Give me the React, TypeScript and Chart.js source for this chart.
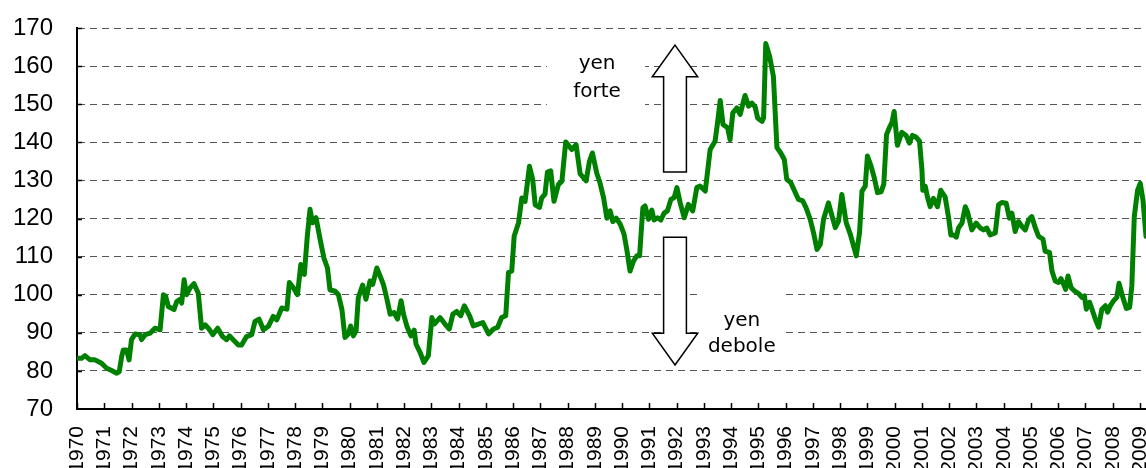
import React, { useEffect, useRef } from 'react';
import { Chart, registerables } from 'chart.js';

Chart.register(...registerables);

// Time (fractional years) and index values
const dates: number[] = [
  1970.00, 1970.17, 1970.29, 1970.48, 1970.66, 1970.90, 1971.09, 1971.27, 1971.46, 1971.55,
  1971.64, 1971.70, 1971.82, 1971.91, 1972.00, 1972.13, 1972.31, 1972.37, 1972.50, 1972.68,
  1972.86, 1973.05, 1973.17, 1973.25, 1973.35, 1973.56, 1973.66, 1973.78, 1973.84, 1973.93,
  1974.02, 1974.15, 1974.29, 1974.45, 1974.57, 1974.70, 1974.82, 1974.98, 1975.16, 1975.34,
  1975.49, 1975.59, 1975.73, 1975.92, 1976.04, 1976.22, 1976.41, 1976.53, 1976.68, 1976.84,
  1977.02, 1977.20, 1977.33, 1977.51, 1977.70, 1977.79, 1977.94, 1978.09, 1978.21, 1978.34,
  1978.45, 1978.55, 1978.64, 1978.77, 1978.92, 1979.06, 1979.19, 1979.28, 1979.47, 1979.59,
  1979.72, 1979.83, 1979.96, 1980.04, 1980.14, 1980.24, 1980.32, 1980.48, 1980.60, 1980.75,
  1980.85, 1981.00, 1981.12, 1981.24, 1981.36, 1981.49, 1981.63, 1981.76, 1981.89, 1981.98,
  1982.10, 1982.25, 1982.37, 1982.44, 1982.59, 1982.73, 1982.89, 1983.02, 1983.11, 1983.32,
  1983.50, 1983.66, 1983.79, 1983.93, 1984.08, 1984.21, 1984.40, 1984.54, 1984.73, 1984.89,
  1985.10, 1985.28, 1985.43, 1985.58, 1985.73, 1985.83, 1985.95, 1986.04, 1986.20, 1986.32,
  1986.44, 1986.60, 1986.72, 1986.81, 1986.97, 1987.05, 1987.17, 1987.26, 1987.38, 1987.50,
  1987.66, 1987.79, 1987.93, 1988.15, 1988.31, 1988.46, 1988.68, 1988.80, 1988.91, 1989.07,
  1989.19, 1989.32, 1989.44, 1989.56, 1989.66, 1989.78, 1989.93, 1990.07, 1990.17, 1990.29,
  1990.42, 1990.54, 1990.64, 1990.76, 1990.84, 1990.97, 1991.09, 1991.17, 1991.30, 1991.42,
  1991.54, 1991.66, 1991.79, 1991.91, 1992.01, 1992.13, 1992.28, 1992.43, 1992.59, 1992.74,
  1992.86, 1993.05, 1993.13, 1993.23, 1993.41, 1993.50, 1993.60, 1993.70, 1993.87, 1993.96,
  1994.06, 1994.21, 1994.33, 1994.51, 1994.64, 1994.76, 1994.88, 1994.97, 1995.13, 1995.19,
  1995.27, 1995.41, 1995.55, 1995.68, 1995.82, 1995.95, 1996.04, 1996.19, 1996.31, 1996.47,
  1996.63, 1996.75, 1996.90, 1997.02, 1997.15, 1997.27, 1997.39, 1997.57, 1997.70, 1997.82,
  1997.94, 1998.06, 1998.22, 1998.37, 1998.49, 1998.59, 1998.71, 1998.80, 1998.92, 1999.00,
  1999.13, 1999.25, 1999.37, 1999.50, 1999.60, 1999.70, 1999.80, 1999.90, 1999.98, 2000.10,
  2000.26, 2000.42, 2000.54, 2000.65, 2000.79, 2000.91, 2001.00, 2001.03, 2001.12, 2001.20,
  2001.30, 2001.42, 2001.57, 2001.69, 2001.85, 2001.98, 2002.06, 2002.16, 2002.26, 2002.34,
  2002.47, 2002.59, 2002.67, 2002.83, 2002.99, 2003.14, 2003.26, 2003.38, 2003.50, 2003.69,
  2003.81, 2003.93, 2004.09, 2004.21, 2004.30, 2004.42, 2004.54, 2004.67, 2004.79, 2004.91,
  2005.03, 2005.16, 2005.28, 2005.44, 2005.52, 2005.68, 2005.77, 2005.89, 2006.01, 2006.10,
  2006.20, 2006.27, 2006.36, 2006.47, 2006.59, 2006.75, 2006.87, 2006.96, 2007.03, 2007.15,
  2007.24, 2007.36, 2007.48, 2007.60, 2007.73, 2007.81, 2007.91, 2008.03, 2008.15, 2008.23,
  2008.37, 2008.50, 2008.62, 2008.70, 2008.79, 2008.91, 2009.01, 2009.11, 2009.22,
];

const yenIndex: number[] = [
  83.3, 83.3, 84.0, 82.9, 82.9, 82.0, 80.7, 80.1, 79.4, 79.8,
  83.8, 85.5, 85.5, 82.9, 88.2, 89.7, 89.5, 88.2, 89.5, 89.9,
  91.2, 90.8, 100.0, 99.6, 96.9, 96.1, 98.2, 98.8, 97.8, 103.9,
  100.0, 101.8, 102.9, 100.4, 91.2, 92.1, 91.2, 89.5, 91.2, 89.0,
  88.2, 89.2, 88.2, 86.8, 86.8, 89.0, 89.5, 93.0, 93.6, 90.8,
  91.7, 94.3, 93.4, 96.5, 96.2, 103.2, 101.8, 100.0, 107.9, 105.3,
  115.4, 122.4, 118.9, 120.2, 114.5, 109.6, 107.0, 101.3, 100.9, 100.0,
  96.1, 88.8, 89.7, 91.8, 89.2, 90.5, 99.2, 102.5, 98.8, 103.6,
  102.7, 107.0, 104.9, 102.7, 99.2, 94.9, 95.3, 93.6, 98.4, 94.9,
  91.8, 89.2, 90.7, 87.0, 84.8, 82.2, 84.0, 94.0, 92.3, 94.0,
  92.3, 91.0, 94.9, 95.6, 94.5, 97.1, 94.5, 91.8, 92.3, 92.7,
  89.7, 91.0, 91.4, 94.0, 94.5, 105.8, 106.2, 115.4, 118.9, 125.4,
  124.5, 133.7, 130.2, 123.6, 122.9, 125.4, 126.4, 132.2, 132.5, 124.5,
  128.9, 129.8, 140.1, 138.1, 139.4, 131.7, 129.9, 135.0, 137.2, 131.9,
  129.3, 125.4, 120.1, 122.0, 119.2, 120.1, 118.5, 115.9, 111.9, 106.2,
  108.9, 110.2, 110.2, 122.8, 123.3, 119.8, 122.2, 119.6, 120.2, 119.6,
  121.4, 122.0, 125.0, 125.5, 128.1, 124.1, 120.2, 123.7, 122.0, 128.1,
  128.5, 127.2, 132.0, 138.1, 140.3, 145.1, 151.0, 144.7, 143.8, 140.7,
  147.7, 149.0, 147.3, 152.3, 149.5, 150.3, 149.3, 146.4, 145.5, 146.4,
  165.9, 162.6, 157.3, 138.6, 137.2, 135.5, 130.3, 129.4, 127.5, 125.0,
  124.6, 122.8, 119.8, 116.3, 111.9, 113.2, 119.8, 124.1, 120.7, 117.6,
  119.3, 126.3, 118.9, 115.9, 112.8, 110.2, 116.3, 127.2, 128.5, 136.4,
  133.8, 130.7, 126.8, 127.0, 129.0, 142.0, 143.8, 145.2, 148.1, 139.2,
  142.6, 141.8, 139.8, 141.8, 141.3, 140.3, 132.7, 127.4, 128.5, 125.7,
  123.1, 125.3, 123.1, 127.4, 125.7, 120.1, 115.7, 115.7, 115.1, 117.5,
  118.8, 123.1, 121.8, 117.0, 118.8, 117.5, 117.0, 117.5, 115.7, 116.2,
  123.6, 124.2, 124.0, 120.1, 121.4, 116.6, 119.2, 117.9, 117.0, 119.6,
  120.5, 117.5, 115.3, 114.6, 111.4, 111.1, 106.2, 103.6, 103.2, 104.2,
  102.7, 101.4, 104.9, 101.9, 101.0, 100.3, 99.3, 99.7, 96.2, 98.0,
  96.2, 93.6, 91.5, 96.2, 97.1, 95.4, 97.1, 98.4, 99.3, 103.0,
  99.3, 96.4, 96.7, 102.3, 120.5, 127.4, 129.2, 124.8, 115.3,
];

const yearTicks: number[] = [
  1970, 1971, 1972, 1973, 1974, 1975, 1976, 1977, 1978, 1979,
  1980, 1981, 1982, 1983, 1984, 1985, 1986, 1987, 1988, 1989,
  1990, 1991, 1992, 1993, 1994, 1995, 1996, 1997, 1998, 1999,
  2000, 2001, 2002, 2003, 2004, 2005, 2006, 2007, 2008, 2009,
];
const yearLabels: string[] = yearTicks.map((y) => String(y));

const annotationTexts = { up: ['yen', 'forte'], down: ['yen', 'debole'] };

const W = 1146;
const H = 468;

function drawArrow(ctx: CanvasRenderingContext2D, cx: number, tipY: number, baseY: number, endY: number, headHalf: number, shaftHalf: number) {
  ctx.beginPath();
  ctx.moveTo(cx, tipY);
  ctx.lineTo(cx + headHalf, baseY);
  ctx.lineTo(cx + shaftHalf, baseY);
  ctx.lineTo(cx + shaftHalf, endY);
  ctx.lineTo(cx - shaftHalf, endY);
  ctx.lineTo(cx - shaftHalf, baseY);
  ctx.lineTo(cx - headHalf, baseY);
  ctx.closePath();
  ctx.fillStyle = '#ffffff';
  ctx.fill();
  ctx.lineWidth = 1.5;
  ctx.strokeStyle = '#000000';
  ctx.stroke();
}

const decorPlugin = {
  id: 'decor',
  beforeDatasetsDraw(chart: any) {
    const { ctx, chartArea } = chart;
    const x = chart.scales.x;
    const y = chart.scales.y;
    ctx.save();

    // inward tick marks
    ctx.strokeStyle = '#000';
    ctx.lineWidth = 1.5;
    ctx.beginPath();
    yearTicks.forEach((v) => {
      const px = Math.round(x.getPixelForValue(v)) + 0.5;
      ctx.moveTo(px, chartArea.bottom);
      ctx.lineTo(px, chartArea.bottom - 6);
    });
    for (let v = 80; v <= 170; v += 10) {
      const py = Math.round(y.getPixelForValue(v)) + 0.5;
      ctx.moveTo(chartArea.left, py);
      ctx.lineTo(chartArea.left + 5, py);
    }
    ctx.stroke();

    // white boxes behind the labels
    ctx.fillStyle = '#ffffff';
    const bx1 = x.getPixelForValue(1987.24), bx2 = x.getPixelForValue(1990.84);
    const by1 = y.getPixelForValue(166), by2 = y.getPixelForValue(147);
    ctx.fillRect(bx1, by1, bx2 - bx1, by2 - by1);
    const cx1 = x.getPixelForValue(1992.78), cx2 = x.getPixelForValue(1995.98);
    const cy1 = y.getPixelForValue(102), cy2 = y.getPixelForValue(87);
    ctx.fillRect(cx1, cy1, cx2 - cx1, cy2 - cy1);

    // arrows
    const ax = x.getPixelForValue(1991.94);
    drawArrow(ctx, ax, y.getPixelForValue(165.5), y.getPixelForValue(157.2), y.getPixelForValue(132.2), 22.7, 11.4);
    drawArrow(ctx, ax, y.getPixelForValue(81.55), y.getPixelForValue(89.9), y.getPixelForValue(115.06), 22.7, 11.4);

    // texts
    ctx.fillStyle = '#000';
    ctx.font = '20px "DejaVu Sans"';
    ctx.textAlign = 'center';
    ctx.textBaseline = 'alphabetic';
    const tx1 = x.getPixelForValue(1989.08);
    ctx.fillText(annotationTexts.up[0], tx1, y.getPixelForValue(159.2));
    ctx.fillText(annotationTexts.up[1], tx1, y.getPixelForValue(151.8));
    const tx2 = x.getPixelForValue(1994.39);
    ctx.fillText(annotationTexts.down[0], tx2, y.getPixelForValue(91.8));
    ctx.fillText(annotationTexts.down[1], tx2, y.getPixelForValue(85.0));

    ctx.restore();
  },
};

export default function App() {
  const ref = useRef<HTMLCanvasElement | null>(null);

  useEffect(() => {
    if (!ref.current) return;
    const chart = new Chart(ref.current, {
      type: 'line',
      data: {
        datasets: [
          {
            data: dates.map((d, i) => ({ x: d, y: yenIndex[i] })),
            borderColor: '#008000',
            borderWidth: 5,
            pointRadius: 0,
            tension: 0,
            borderJoinStyle: 'round',
            borderCapStyle: 'round',
            fill: false,
          },
        ],
      },
      options: {
        animation: false,
        responsive: false,
        devicePixelRatio: 1,
        events: [],
        layout: { padding: { top: 28, right: 0, left: 0, bottom: 0 } },
        plugins: { legend: { display: false }, tooltip: { enabled: false } },
        scales: {
          x: {
            type: 'linear',
            min: 1970,
            max: 2009.22,
            grid: { display: false, drawTicks: false },
            border: { display: true, color: '#000', width: 2 },
            afterBuildTicks: (scale: any) => {
              scale.ticks = yearTicks.map((v) => ({ value: v }));
            },
            afterFit: (scale: any) => {
              scale.height = 59;
              scale.paddingLeft = 0;
              scale.paddingRight = 0;
              scale.paddingTop = 0;
              scale.paddingBottom = 0;
            },
            ticks: {
              autoSkip: false,
              minRotation: 90,
              maxRotation: 90,
              padding: 17,
              color: '#000',
              font: { family: '"Liberation Sans", Arial, sans-serif', size: 21 },
              callback: (v: any, i: number) => yearLabels[i] ?? String(v),
            },
          },
          y: {
            min: 70,
            max: 170,
            grid: { color: '#555', lineWidth: 1, drawTicks: false },
            border: { display: true, color: '#000', width: 2, dash: [7, 5] },
            afterFit: (scale: any) => {
              scale.width = 77;
              scale.paddingTop = 0;
              scale.paddingBottom = 0;
              scale.paddingLeft = 0;
              scale.paddingRight = 0;
            },
            ticks: {
              stepSize: 10,
              padding: 24,
              color: '#000',
              font: { family: '"Liberation Sans", Arial, sans-serif', size: 24 },
            },
          },
        },
      },
      plugins: [decorPlugin],
    } as any);
    return () => chart.destroy();
  }, []);

  return (
    <div style={{ position: 'absolute', left: 0, top: 0, width: W, height: H, overflow: 'hidden', background: '#fff' }}>
      <canvas ref={ref} width={W} height={H} style={{ display: 'block', width: W, height: H }} />
    </div>
  );
}
